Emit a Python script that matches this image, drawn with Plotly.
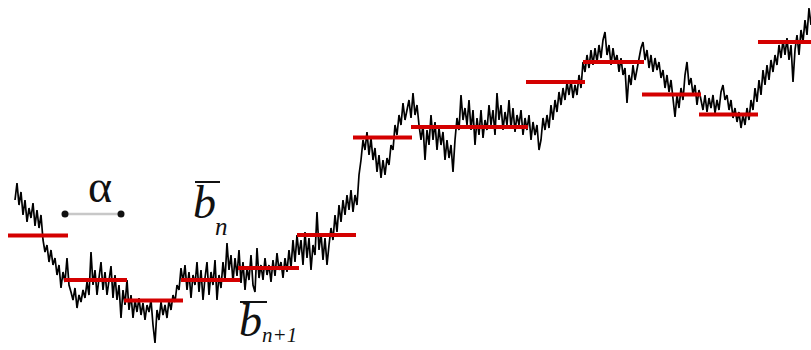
import numpy as np
import plotly.graph_objects as go

# time index of the walk (pixel-like units) and the walk's level (screen-down units)
t_start, t_end, t_step = 15, 811, 2
walk = [
    200, 183, 205, 192, 215, 200, 222, 208, 218, 203, 226, 210, 228, 215,
    240, 252, 245, 262, 250, 265, 258, 275, 265, 288, 272, 282, 258, 285,
    292, 300, 288, 308, 295, 302, 290, 298, 282, 295, 252, 285, 270, 295, 278,
    262, 290, 272, 295, 280, 266, 298, 275, 300, 285, 318, 290,
    305, 280, 310, 295, 318, 300, 312, 298, 315, 303, 320, 305, 312, 300, 325,
    343, 310, 320, 302, 315, 305, 318, 300, 310, 295, 302, 285, 290, 268, 282,
    265, 290, 272, 298, 275, 285, 262, 292, 270, 300, 278, 262, 295, 272, 285, 260,
    300, 275, 288, 262, 280, 243, 270, 255, 282, 258, 276, 250,
    283, 262, 290, 268, 280, 255, 285, 292, 248, 278, 265, 280, 258, 275, 265,
    282, 260, 276, 253, 270, 262, 278, 258, 272, 250, 268, 240, 262, 235, 255,
    240, 265, 232, 258, 238, 270, 245, 255, 212, 250, 233, 260, 238, 265, 245,
    228, 240, 215, 232, 205, 222, 200, 215, 195, 210, 190, 212, 195, 205, 175,
    160, 140, 150, 132, 155, 138, 160, 148, 172, 155, 178, 160, 175, 158, 165,
    145, 150, 125, 135, 115, 125, 103, 120, 110, 100, 118, 93, 115, 105, 125,
    140, 125, 160, 130, 145, 115, 140, 122, 150, 128, 145, 132, 160, 140, 158,
    145, 172, 140, 118, 130, 95, 120, 108, 125, 100, 130, 110, 145, 118, 135,
    110, 138, 120, 130, 105, 125, 110, 135, 93, 120, 105, 130, 112, 125, 100,
    128, 108, 132, 115, 125, 110, 135, 118, 130, 115, 140, 122, 135, 125, 150,
    140, 118, 130, 115, 128, 105, 120, 100, 112, 92, 105, 88, 100, 82, 95,
    80, 98, 85, 95, 75, 88, 62, 72, 55, 68, 50, 65, 48, 62, 45,
    58, 40, 32, 55, 45, 65, 48, 62, 55, 72, 58, 75, 68, 103, 75,
    85, 65, 80, 70, 60, 48, 42, 60, 50, 68, 55, 72, 58, 70, 62,
    78, 70, 88, 75, 92, 80, 97, 117, 95, 108, 88, 100, 75, 62, 85,
    78, 95, 85, 105, 90, 100, 110, 95, 112, 98, 108, 95, 113, 100, 110,
    92, 85, 100, 95, 110, 100, 118, 108, 122, 112, 128, 115, 125, 108, 120,
    100, 110, 88, 102, 80, 95, 70, 85, 65, 80, 60, 72, 55, 65, 45,
    58, 40, 55, 38, 60, 45, 82, 50, 35, 55, 30, 42, 20, 35, 8, 25,
]
t = np.arange(t_start, t_start + t_step * len(walk), t_step)

# block means (start, end, level)
block_start = [8, 64, 124, 181, 238, 297, 353, 411, 526, 583, 642, 699, 758]
block_end = [68, 127, 183, 240, 299, 356, 412, 528, 585, 644, 701, 758, 811]
block_mean = [235.5, 280, 300.5, 280, 268, 235, 137.5, 127, 82, 62, 94.5, 114.5, 42]

fig = go.Figure()
fig.add_trace(go.Scatter(x=t, y=walk, mode="lines",
                         line=dict(color="#000000", width=1.7),
                         hoverinfo="skip", showlegend=False))
for s, e, m in zip(block_start, block_end, block_mean):
    fig.add_trace(go.Scatter(x=[s, e], y=[m, m], mode="lines",
                             line=dict(color="#d40000", width=4),
                             hoverinfo="skip", showlegend=False))

# alpha window marker
alpha_x = [65, 121]
alpha_y = 214
fig.add_trace(go.Scatter(x=alpha_x, y=[alpha_y, alpha_y], mode="lines",
                         line=dict(color="#c8c8c8", width=2.5),
                         hoverinfo="skip", showlegend=False))
fig.add_trace(go.Scatter(x=alpha_x, y=[alpha_y, alpha_y], mode="markers",
                         marker=dict(color="#111111", size=7),
                         hoverinfo="skip", showlegend=False))

serif = "Liberation Serif, Times New Roman, serif"
anns = [
    dict(x=100, y=186, text="α", size=46),
    dict(x=204, y=202, text="<i>b</i>", size=46),
    dict(x=221, y=226, text="<i>n</i>", size=25),
    dict(x=250, y=320, text="<i>b</i>", size=46),
    dict(x=279, y=335, text="<i>n+1</i>", size=21),
]
for a in anns:
    fig.add_annotation(x=a["x"], y=a["y"], text=a["text"], showarrow=False,
                       font=dict(family=serif, size=a["size"], color="#111111"),
                       xanchor="center", yanchor="middle")
# overlines
fig.add_shape(type="line", x0=195, x1=220, y0=182, y1=182,
              line=dict(color="#111111", width=2))
fig.add_shape(type="line", x0=240, x1=267, y0=302, y1=302,
              line=dict(color="#111111", width=2))

fig.update_layout(width=811, height=350, margin=dict(l=0, r=0, t=0, b=0),
                  plot_bgcolor="white", paper_bgcolor="white",
                  xaxis=dict(range=[0, 811], visible=False, fixedrange=True),
                  yaxis=dict(range=[350, 0], visible=False, fixedrange=True))
fig.write_html("out.html")
